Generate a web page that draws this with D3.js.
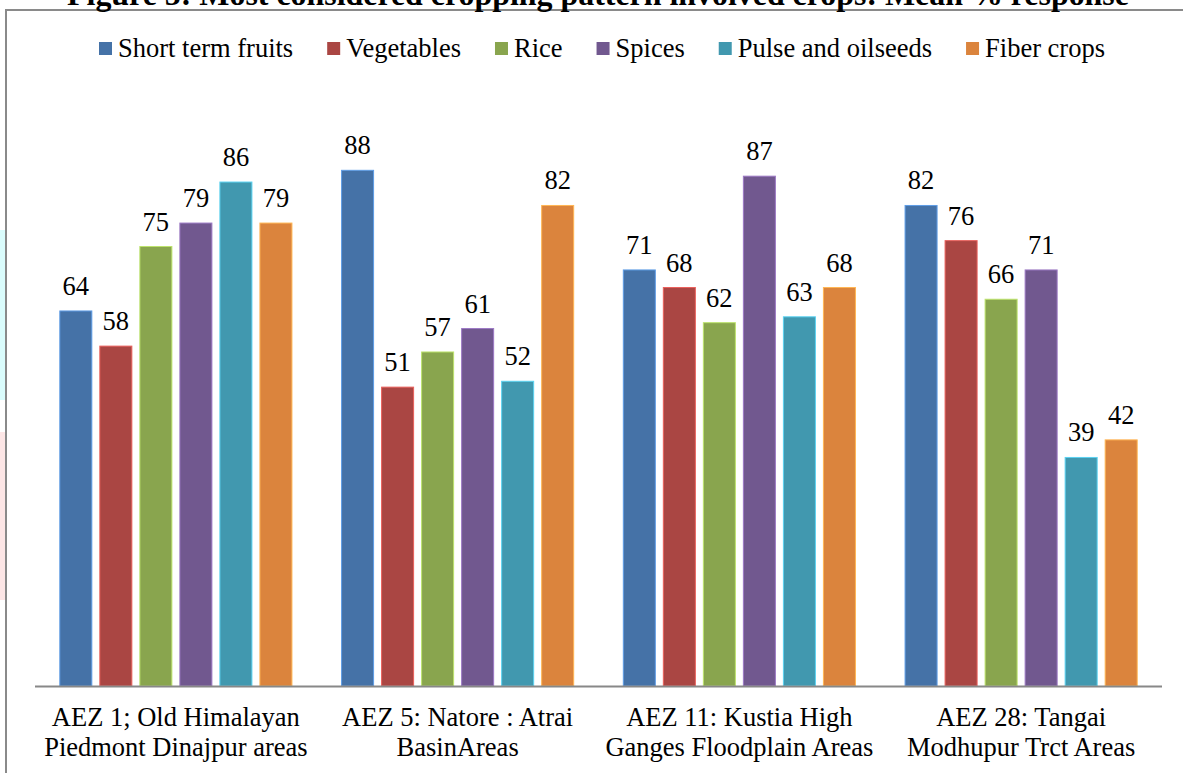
<!DOCTYPE html>
<html>
<head>
<meta charset="utf-8">
<script src="https://cdn.jsdelivr.net/npm/d3@7"></script>
<style>
  body { margin: 0; background: #fff; }
  svg text { font-family: "Liberation Serif", "Times New Roman", serif; fill: #000; }
</style>
</head>
<body>
<svg id="chart" width="1183" height="773"></svg>
<script>
const groups = [
  ["AEZ 1; Old Himalayan", "Piedmont Dinajpur areas"],
  ["AEZ 5: Natore : Atrai", "BasinAreas"],
  ["AEZ 11: Kustia High", "Ganges Floodplain Areas"],
  ["AEZ 28: Tangai", "Modhupur Trct Areas"]
];
const crops = ["Short term fruits", "Vegetables", "Rice", "Spices", "Pulse and oilseeds", "Fiber crops"];
const colors = ["#4572A7", "#AA4643", "#89A54E", "#71588F", "#4198AF", "#DB843D"];

// one row per AEZ, one value per crop (mean % response)
const values = [
  [64, 58, 75, 79, 86, 79],
  [88, 51, 57, 61, 52, 82],
  [71, 68, 62, 87, 63, 68],
  [82, 76, 66, 71, 39, 42]
];

const svg = d3.select("#chart");
const width = 1183, height = 773;

// faint marks on the left edge of the page
svg.append("rect").attr("x", 0).attr("y", 230).attr("width", 5).attr("height", 170).attr("fill", "#dafcfc");
svg.append("rect").attr("x", 0).attr("y", 432).attr("width", 5).attr("height", 168).attr("fill", "#fde6e6");

// chart frame (only top + left are in view)
svg.append("path")
  .attr("d", `M6,${height} L6,10 L${width},10`)
  .attr("fill", "none")
  .attr("stroke", "#8a8a8a")
  .attr("stroke-width", 2);

svg.append("text")
  .attr("x", 598).attr("y", 5)
  .attr("text-anchor", "middle")
  .attr("font-size", 31.9).attr("font-weight", "bold")
  .text("Figure 5: Most considered cropping pattern involved crops: Mean % response");

const x0 = d3.scaleBand()
  .domain(d3.range(groups.length))
  .range([35, 1162]);

const x1 = d3.scaleBand()
  .domain(d3.range(crops.length))
  .range([0, x0.bandwidth()])
  .paddingInner(0.2)
  .paddingOuter(0.62);

const y = d3.scaleLinear().domain([0, 100]).range([686, 100]);

const g = svg.append("g")
  .selectAll("g")
  .data(values)
  .join("g")
  .attr("transform", (d, i) => `translate(${x0(i)},0)`);

g.selectAll("rect")
  .data(d => d)
  .join("rect")
  .attr("x", (d, i) => x1(i))
  .attr("y", d => y(d))
  .attr("width", x1.bandwidth())
  .attr("height", d => y(0) - y(d))
  .attr("fill", (d, i) => colors[i])
  .attr("stroke", (d, i) => d3.color(colors[i]).brighter(0.9))
  .attr("stroke-width", 1);

g.selectAll("text")
  .data(d => d)
  .join("text")
  .attr("x", (d, i) => x1(i) + x1.bandwidth() / 2)
  .attr("y", d => y(d) - 16)
  .attr("text-anchor", "middle")
  .attr("font-size", 26.5)
  .text(d => d);

// x axis line
svg.append("line")
  .attr("x1", 35).attr("x2", 1162)
  .attr("y1", y(0) + 0.5).attr("y2", y(0) + 0.5)
  .attr("stroke", "#888")
  .attr("stroke-width", 2);

// category labels (two lines each)
const lab = svg.append("g")
  .selectAll("text")
  .data(groups)
  .join("text")
  .attr("x", (d, i) => x0(i) + x0.bandwidth() / 2)
  .attr("y", 726)
  .attr("text-anchor", "middle")
  .attr("font-size", 26.5);
lab.selectAll("tspan")
  .data(d => d)
  .join("tspan")
  .attr("x", function () { return this.parentNode.getAttribute("x"); })
  .attr("dy", (d, i) => i === 0 ? 0 : 30)
  .text(d => d);

// legend
const legend = svg.append("g");
let lx = 99;
crops.forEach((c, i) => {
  legend.append("rect")
    .attr("x", lx).attr("y", 42)
    .attr("width", 13).attr("height", 13)
    .attr("fill", colors[i]);
  const t = legend.append("text")
    .attr("x", lx + 19).attr("y", 57)
    .attr("font-size", 26.5)
    .text(c);
  lx += 19 + t.node().getComputedTextLength() + 34;
});
</script>
</body>
</html>
